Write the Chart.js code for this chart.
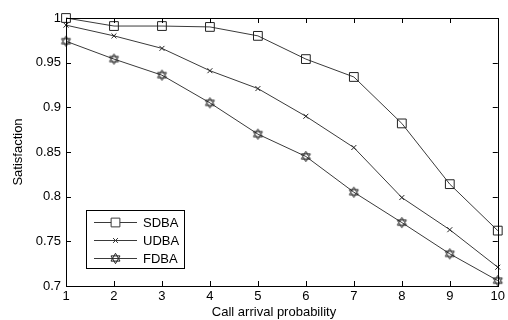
<!DOCTYPE html>
<html><head><meta charset="utf-8">
<script src="https://cdn.jsdelivr.net/npm/chart.js@4/dist/chart.umd.min.js"></script>
<style>html,body{margin:0;padding:0;background:#fff}#wrap{width:508px;height:320px}</style>
</head><body><div id="wrap"><canvas id="c" width="508" height="320"></canvas></div>
<script>
const categories = [1,2,3,4,5,6,7,8,9,10];
const sdba = [1.000,0.991,0.991,0.990,0.980,0.954,0.934,0.882,0.814,0.762];
const udba = [0.992,0.980,0.966,0.941,0.921,0.890,0.855,0.799,0.763,0.721];
const fdba = [0.974,0.954,0.936,0.905,0.870,0.845,0.805,0.771,0.736,0.706];
const seriesNames = ['SDBA','UDBA','FDBA'];
const xTitle = 'Call arrival probability';
const yTitle = 'Satisfaction';

const LINE = '#3a3a3a';
function hexagram(){
  const c = document.createElement('canvas'); c.width = 13; c.height = 13;
  const g = c.getContext('2d'); g.strokeStyle = '#222'; g.lineWidth = 1;
  const cx = 6.5, cy = 6.5, r = 5.2;
  for (const rot of [-Math.PI/2, Math.PI/2]) {
    g.beginPath();
    for (let i = 0; i < 3; i++) {
      const a = rot + i*2*Math.PI/3;
      const px = cx + r*Math.cos(a), py = cy + r*Math.sin(a);
      i ? g.lineTo(px,py) : g.moveTo(px,py);
    }
    g.closePath(); g.stroke();
  }
  return c;
}
const star = hexagram();

const FONTSTR = '13px "Liberation Sans", Arial, sans-serif';
const font = {family:'"Liberation Sans", Arial, sans-serif', size:13};

const frame = {
  id:'frame',
  afterDatasetsDraw(chart){
    const {ctx, chartArea:a, scales:{x,y}} = chart;
    ctx.save();
    ctx.strokeStyle = '#000'; ctx.lineWidth = 1;
    ctx.strokeRect(Math.round(a.left)+0.5, Math.round(a.top)+0.5, Math.round(a.right-a.left), Math.round(a.bottom-a.top));
    const L = 5;
    ctx.beginPath();
    x.ticks.forEach(t => {
      const px = Math.round(x.getPixelForValue(t.value)) + 0.5;
      ctx.moveTo(px, a.bottom); ctx.lineTo(px, a.bottom - L);
      ctx.moveTo(px, a.top); ctx.lineTo(px, a.top + L);
    });
    y.ticks.forEach(t => {
      const py = Math.round(y.getPixelForValue(t.value)) + 0.5;
      ctx.moveTo(a.left, py); ctx.lineTo(a.left + L, py);
      ctx.moveTo(a.right, py); ctx.lineTo(a.right - L, py);
    });
    ctx.stroke();
    // x axis title
    ctx.fillStyle = '#000'; ctx.font = FONTSTR;
    ctx.textAlign = 'center'; ctx.textBaseline = 'middle';
    ctx.fillText(xTitle, 274, 312);
    // legend
    const bx = 86.5, by = 210.5, bw = 98, bh = 58;
    ctx.fillStyle = '#fff'; ctx.fillRect(bx, by, bw, bh);
    ctx.strokeStyle = '#000'; ctx.strokeRect(bx, by, bw, bh);
    chart.data.datasets.forEach((ds, i) => {
      const yy = 222 + i*18;
      ctx.strokeStyle = LINE; ctx.lineWidth = 1;
      ctx.beginPath(); ctx.moveTo(94, yy+0.5); ctx.lineTo(137, yy+0.5); ctx.stroke();
      Chart.helpers.drawPoint(ctx, {pointStyle: ds.pointStyle, radius: ds.pointRadius, borderWidth: 1, rotation: 0}, 115.5, yy+0.5);
      ctx.fillStyle = '#000'; ctx.font = FONTSTR;
      ctx.textBaseline = 'middle'; ctx.textAlign = 'left';
      ctx.fillText(ds.label, 143, yy+1);
    });
    ctx.restore();
  }
};

function ds(label, data, style, r){
  return {label, data, borderColor:LINE, backgroundColor:'rgba(0,0,0,0)', borderWidth:1,
    pointStyle:style, pointRadius:r, pointHoverRadius:r, pointBorderColor:'#222', pointBorderWidth:1,
    pointBackgroundColor:'rgba(0,0,0,0)', tension:0, clip:false};
}

new Chart(document.getElementById('c'), {
  type:'line',
  data:{labels:categories, datasets:[
    ds(seriesNames[0], sdba, 'rect', 6.2),
    ds(seriesNames[1], udba, 'crossRot', 3.5),
    ds(seriesNames[2], fdba, star, 6)
  ]},
  options:{
    responsive:false, animation:false, devicePixelRatio:1,
    layout:{padding:{top:18, right:7, left:0, bottom:0}},
    plugins:{legend:{display:false}, tooltip:{enabled:false}},
    scales:{
      x:{type:'category', offset:false,
        grid:{display:false, drawTicks:false}, border:{display:false},
        ticks:{color:'#000', font, padding:3, maxRotation:0, autoSkip:false},
        afterFit(s){ s.height = 34; }
      },
      y:{min:0.7, max:1, 
        grid:{display:false, drawTicks:false}, border:{display:false},
        ticks:{stepSize:0.05, color:'#000', font, padding:5,
          callback:v => String(Number(v.toFixed(2)))},
        title:{display:true, text:yTitle, color:'#000', font, padding:{top:11,bottom:0}},
        afterFit(s){ s.width = 66; }
      }
    }
  },
  plugins:[frame]
});
</script></body></html>
